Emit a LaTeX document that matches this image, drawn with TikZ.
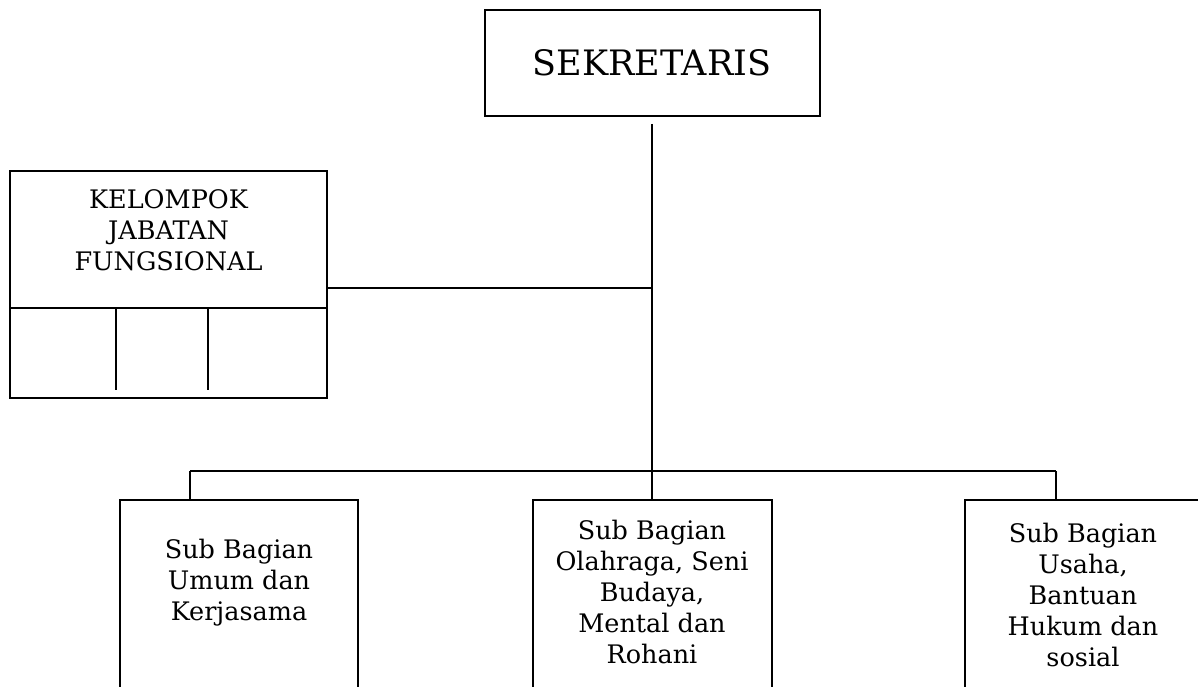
\documentclass[tikz,border=0pt]{standalone}
\usepackage{fontspec}
\setmainfont{DejaVu Serif}
\begin{document}
\begin{tikzpicture}[x=1pt,y=-1pt,
  box/.style={draw, line width=2pt, rectangle, inner sep=0pt},
  lbl/.style={align=center, font=\fontsize{25.5}{31}\selectfont, inner sep=0pt},
  conn/.style={line width=2pt}]
\useasboundingbox (0,0) rectangle (1198,687);
\clip (0,0) rectangle (1198,687);
% Sekretaris
\node[box, minimum width=335pt, minimum height=106pt, font=\fontsize{35}{40}\selectfont] (sek) at (652,63) {SEKRETARIS};
% Kelompok jabatan fungsional
\node[box, minimum width=317pt, minimum height=227pt] (kjf) at (168.5,284.5) {};
\node[lbl] (kjft) at (168.5,230) {KELOMPOK\\JABATAN\\FUNGSIONAL};
\coordinate (dl) at (10,308);
\coordinate (dr) at (327,308);
\draw[conn] (dl) -- (dr);
\coordinate (v1a) at (116,308); \coordinate (v1b) at (116,390);
\coordinate (v2a) at (208,308); \coordinate (v2b) at (208,390);
\draw[conn] (v1a) -- (v1b);
\draw[conn] (v2a) -- (v2b);
% Sub bagian boxes (open below the page edge)
\node[box, minimum width=238pt, minimum height=260pt, anchor=north] (sb1) at (239,499) {};
\node[box, minimum width=239pt, minimum height=260pt, anchor=north] (sb2) at (652,499) {};
\node[box, minimum width=250pt, minimum height=260pt, anchor=north west] (sb3) at (964,499) {};
\node[lbl] (sb1t) at (239,583) {Sub Bagian\\Umum dan\\Kerjasama};
\node[lbl] (sb2t) at (652,592) {Sub Bagian\\Olahraga, Seni\\Budaya,\\Mental dan\\Rohani};
\node[lbl] (sb3t) at (1083,595) {Sub Bagian\\Usaha,\\Bantuan\\Hukum dan\\sosial};
% connectors
\coordinate (jk) at (652,288);
\coordinate (bar) at (652,471);
\coordinate (bl) at (190,471);
\coordinate (br) at (1056,471);
\draw[conn] ([yshift=-7pt]sek.south) -- (bar) -- (sb2.north);
\draw[conn] (kjf.east |- jk) -- (jk);
\draw[conn] (bl) -- (br);
\draw[conn] (bl) -- (bl |- sb1.north);
\draw[conn] (br) -- (br |- sb3.north);
\end{tikzpicture}
\end{document}
